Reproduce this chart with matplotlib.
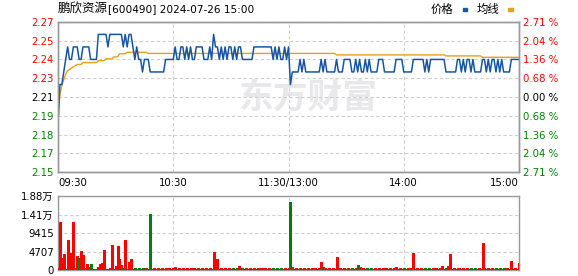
import numpy as np
import matplotlib.pyplot as plt
from matplotlib.patches import Rectangle

# Data (1-minute bars, 09:30 -> 15:00, 241 points)
prev_close = 2.21
max_pct = 2.71

price_cents = [
    219, 222, 222, 223, 224, 225, 224, 224, 225, 225,
    225, 224, 224, 225, 225, 225, 225, 224, 224, 224,
    224, 226, 226, 226, 226, 226, 225, 226, 226, 226,
    226, 226, 226, 226, 225, 226, 225, 226, 226, 225,
    224, 225, 224, 224, 223, 224, 224, 224, 223, 223,
    223, 223, 223, 223, 223, 223, 224, 224, 224, 224,
    224, 225, 224, 224, 225, 225, 224, 225, 224, 225,
    224, 224, 225, 225, 225, 225, 224, 224, 224, 225,
    224, 226, 225, 225, 224, 225, 224, 225, 224, 225,
    225, 224, 225, 224, 225, 225, 224, 224, 224, 224,
    224, 224, 225, 225, 225, 225, 225, 225, 225, 225,
    225, 225, 224, 225, 224, 225, 224, 224, 225, 224,
    225, 222, 223, 223, 223, 223, 224, 223, 224, 223,
    223, 223, 223, 223, 223, 223, 223, 224, 223, 224,
    223, 223, 223, 223, 223, 224, 223, 223, 223, 224,
    224, 224, 224, 223, 223, 224, 223, 224, 223, 223,
    224, 223, 224, 223, 223, 223, 223, 224, 224, 224,
    223, 223, 223, 223, 223, 223, 224, 224, 224, 224,
    223, 223, 223, 223, 223, 224, 224, 224, 224, 224,
    224, 223, 224, 223, 224, 224, 224, 224, 224, 224,
    224, 224, 223, 223, 223, 223, 223, 223, 224, 224,
    223, 224, 223, 224, 224, 223, 224, 223, 223, 223,
    223, 224, 224, 223, 224, 223, 224, 224, 223, 224,
    223, 224, 223, 223, 223, 223, 224, 224, 224, 224,
    224,
]

# average price line, as (value, number of minutes)
avg_runs = [
    (2.190, 1), (2.212, 1), (2.219, 1), (2.224, 1), (2.228, 1),
    (2.231, 1), (2.232, 1), (2.233, 1), (2.234, 1), (2.235, 1),
    (2.236, 3), (2.2375, 8), (2.239, 4), (2.2405, 4), (2.242, 3),
    (2.2445, 4), (2.2457, 11), (2.2448, 98), (2.2436, 57),
    (2.2428, 19), (2.2417, 20),
]

volume = [
    400, 12130, 2970, 3990, 380, 7550, 3800, 4320, 12130, 420,
    3560, 2970, 4830, 3800, 590, 1440, 760, 1440, 380, 380,
    380, 760, 1440, 1780, 5090, 380, 380, 500, 6360, 380,
    1020, 6100, 2800, 1270, 500, 7630, 380, 2030, 2800, 380,
    450, 380, 450, 380, 450, 380, 450, 380, 14160, 380,
    450, 380, 450, 380, 450, 380, 450, 380, 450, 380,
    450, 850, 380, 450, 380, 450, 380, 450, 380, 450,
    380, 450, 380, 450, 380, 450, 380, 450, 380, 450,
    380, 4660, 450, 2800, 380, 450, 380, 450, 380, 450,
    380, 450, 380, 450, 1100, 380, 450, 380, 450, 380,
    450, 380, 450, 380, 450, 600, 450, 380, 450, 380,
    450, 380, 450, 380, 450, 380, 450, 380, 450, 380,
    450, 17380, 850, 380, 450, 380, 450, 380, 450, 380,
    450, 380, 450, 380, 450, 380, 450, 2120, 850, 450,
    380, 450, 380, 450, 380, 3390, 380, 450, 380, 450,
    380, 450, 380, 450, 380, 450, 1360, 850, 380, 450,
    380, 450, 380, 450, 380, 450, 380, 450, 380, 450,
    380, 600, 380, 450, 380, 450, 850, 380, 450, 380,
    450, 380, 450, 380, 450, 4410, 380, 600, 380, 450,
    380, 450, 380, 450, 380, 450, 380, 450, 380, 450,
    1100, 380, 450, 1100, 4070, 380, 450, 380, 510, 450,
    380, 450, 380, 450, 380, 450, 380, 450, 380, 450,
    380, 6950, 450, 380, 450, 380, 450, 380, 450, 380,
    450, 380, 450, 380, 450, 380, 2370, 380, 450, 380,
    1870,
]

price_labels = ['2.27', '2.25', '2.24', '2.23', '2.21', '2.19', '2.18', '2.17', '2.15']
pct_labels = ['2.71 %', '2.04 %', '1.36 %', '0.68 %', '0.00 %', '0.68 %', '1.36 %', '2.04 %', '2.71 %']
time_labels = ['09:30', '10:30', '11:30/13:00', '14:00', '15:00']
vol_ticks = [0, 4707, 9415, 14122, 18830]
vol_labels = ['0', '4707', '9415', '1.41万', '1.88万']

price = np.array(price_cents) / 100.0
avg = np.concatenate([np.full(n, v) for v, n in avg_runs])
volume = np.array(volume)
t = np.arange(len(price))

RED = '#ff0000'
GREEN = '#008000'
BLUE = '#1856a3'
GOLD = '#e3a21a'
GRID = '#cfcfcf'
SPINE = '#999999'
label_colors = [RED] * 4 + ['#000000'] + [GREEN] * 4

fig = plt.figure(figsize=(5.78, 2.76), dpi=100)
W, H = 578.0, 276.0
ax = fig.add_axes([58 / W, 1 - 172 / H, 461 / W, 150 / H])
axv = fig.add_axes([58 / W, 1 - 270 / H, 461 / W, 74 / H])

lo = prev_close * (1 - max_pct / 100)
hi = prev_close * (1 + max_pct / 100)
yt = np.linspace(hi, lo, 9)

# watermark
ax.text(0.544, 0.5, '东方财富', transform=ax.transAxes, ha='center', va='center',
        fontsize=25, color='#e8e8eb', family='Noto Sans CJK SC', fontweight='bold', zorder=0)

ax.plot(t, avg, color=GOLD, lw=1.0, zorder=3)
ax.plot(t, price, color=BLUE, lw=1.1, zorder=4)

ax.set_xlim(0, 240)
ax.set_ylim(lo, hi)
ax.set_yticks(yt)
ax.set_yticklabels(price_labels)
for lbl, c in zip(ax.get_yticklabels(), label_colors):
    lbl.set_color(c)
ax.set_xticks([0, 60, 120, 180, 240])
ax.set_xticklabels(time_labels)
xl = ax.get_xticklabels()
xl[0].set_ha('left')
xl[-1].set_ha('right')
ax.tick_params(length=0, labelsize=7.3, pad=3)
ax.tick_params(axis='x', pad=4.5)

ax2 = ax.twinx()
ax2.set_ylim(lo, hi)
ax2.set_yticks(yt)
ax2.set_yticklabels(pct_labels)
for lbl, c in zip(ax2.get_yticklabels(), label_colors):
    lbl.set_color(c)
ax2.tick_params(length=0, labelsize=7.3, pad=3)

for a in (ax, axv):
    a.grid(True, color=GRID, ls=(0, (3, 2.2)), lw=0.8)
    a.set_axisbelow(True)
for a in (ax, ax2, axv):
    for s in a.spines.values():
        s.set_color(SPINE)
        s.set_linewidth(1.0)

# volume bars, red when price did not fall, green otherwise
chg = np.diff(price, prepend=price[0])
vcol = [GREEN if c < 0 else RED for c in chg]
axv.vlines(t, 0, volume, colors=vcol, lw=0.75, antialiased=False, zorder=3)
axv.set_xlim(0, 240)
axv.set_ylim(0, 18830)
axv.set_xticks([0, 60, 120, 180, 240])
axv.set_xticklabels([])
axv.set_yticks(vol_ticks)
axv.set_yticklabels(vol_labels, family=['DejaVu Sans', 'Noto Sans CJK SC'])
axv.tick_params(length=0, labelsize=7.3, pad=3)

# title and legend
fig.text(58 / W, 1 - 9 / H, '鹏欣资源', family='Noto Sans CJK SC', fontsize=9, va='center')
fig.text(108 / W, 1 - 9 / H, '[600490] 2024-07-26 15:00', family='DejaVu Sans', fontsize=7.6, va='center')
fig.text(431 / W, 1 - 9 / H, '价格', family='Noto Sans CJK SC', fontsize=8.2, va='center')
fig.text(477 / W, 1 - 9 / H, '均线', family='Noto Sans CJK SC', fontsize=8.2, va='center')
fig.add_artist(Rectangle((463 / W, 1 - 11 / H), 4.5 / W, 3 / H, transform=fig.transFigure, color=BLUE))
fig.add_artist(Rectangle((508 / W, 1 - 11 / H), 4.5 / W, 3 / H, transform=fig.transFigure, color=GOLD))

fig.savefig('out.png', dpi=100)
